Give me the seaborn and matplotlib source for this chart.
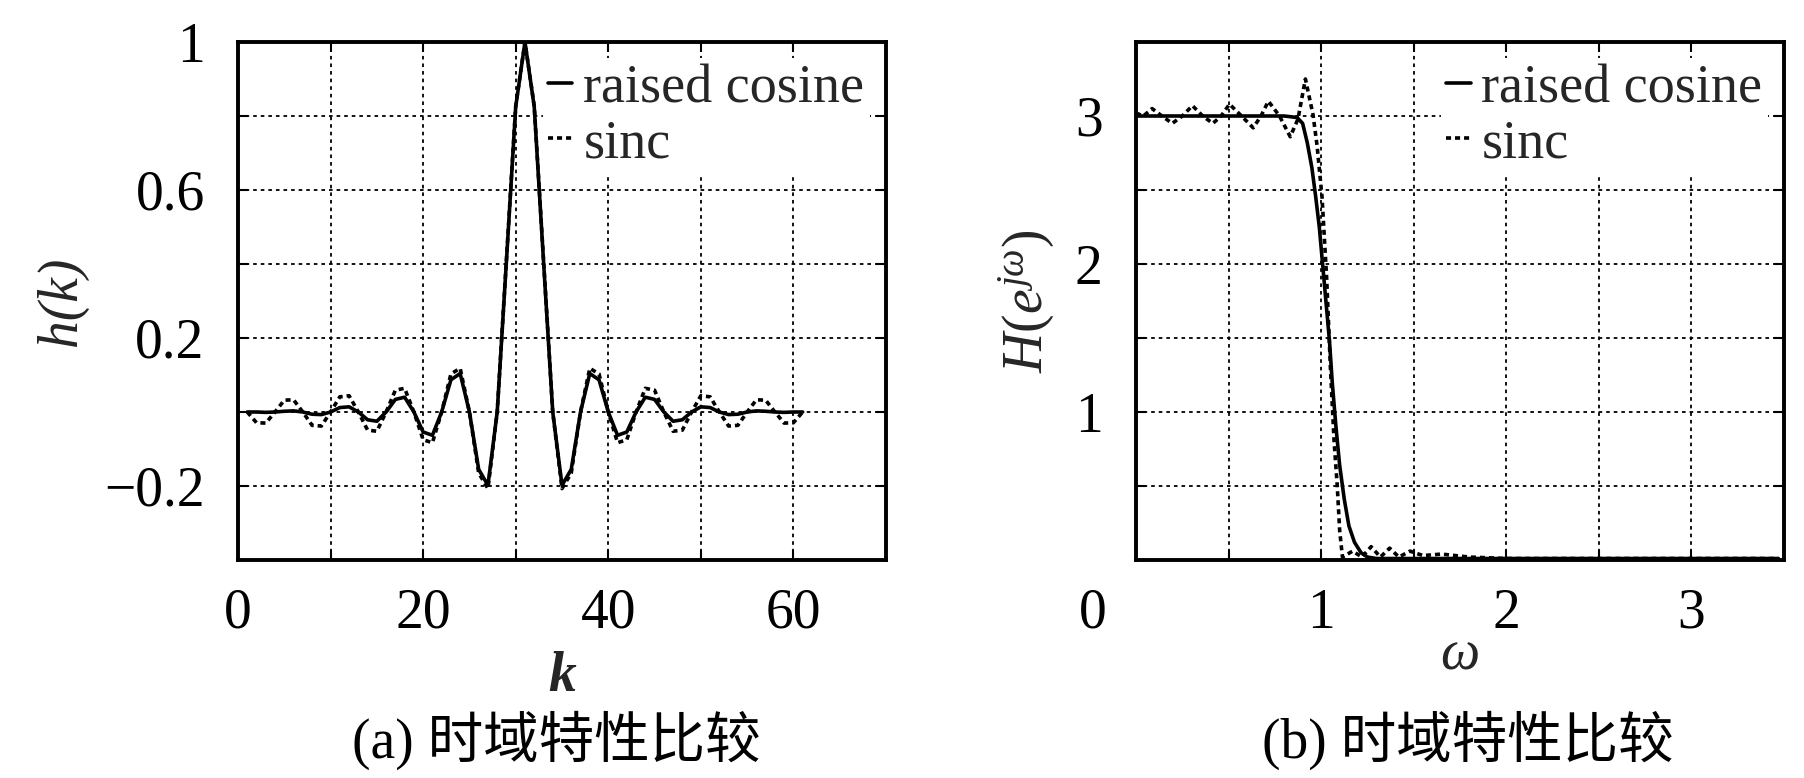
import matplotlib
matplotlib.use("Agg")
import matplotlib.pyplot as plt
import matplotlib.transforms as mtransforms
import seaborn as sns

# ---------------- data ----------------
k = list(range(1, 62))
h_raised_cosine = [0.000, -0.000, -0.001, 0.000, 0.002, 0.003, 0.000, -0.006, -0.007, 0.000,
                   0.012, 0.014, 0.000, -0.021, -0.025, 0.000, 0.034, 0.040, 0.000, -0.054,
                   -0.063, 0.000, 0.087, 0.104, 0.000, -0.155, -0.198, 0.000, 0.409, 0.825,
                   1.000,
                   0.825, 0.409, 0.000, -0.198, -0.155, 0.000, 0.104, 0.087, 0.000, -0.063,
                   -0.054, 0.000, 0.040, 0.034, 0.000, -0.025, -0.021, 0.000, 0.014, 0.012,
                   0.000, -0.007, -0.006, 0.000, 0.003, 0.002, 0.000, -0.001, -0.000, 0.000]
h_sinc = [0.000, -0.029, -0.030, 0.000, 0.032, 0.033, 0.000, -0.036, -0.038, 0.000,
          0.041, 0.044, 0.000, -0.049, -0.052, 0.000, 0.059, 0.064, 0.000, -0.075,
          -0.083, 0.000, 0.103, 0.118, 0.000, -0.165, -0.207, 0.000, 0.413, 0.827,
          1.000,
          0.827, 0.413, 0.000, -0.207, -0.165, 0.000, 0.118, 0.103, 0.000, -0.083,
          -0.075, 0.000, 0.064, 0.059, 0.000, -0.052, -0.049, 0.000, 0.044, 0.041,
          0.000, -0.038, -0.036, 0.000, 0.033, 0.032, 0.000, -0.030, -0.029, 0.000]

omega_rc = [0.00, 0.20, 0.40, 0.60, 0.80, 0.87, 0.90, 0.925, 0.95, 0.97,
            0.99, 1.005, 1.025, 1.045, 1.06, 1.08, 1.10, 1.125, 1.15, 1.18,
            1.215, 1.25, 1.30, 1.60, 2.00, 2.50, 3.00, 3.47]
H_rc = [3.00, 3.00, 3.00, 3.00, 3.00, 2.99, 2.95, 2.82, 2.65, 2.46,
        2.25, 2.04, 1.76, 1.48, 1.20, 0.90, 0.64, 0.41, 0.23, 0.12,
        0.05, 0.02, 0.01, 0.01, 0.01, 0.01, 0.01, 0.01]

omega_sinc = [0.00, 0.04, 0.087, 0.14, 0.196, 0.25, 0.305, 0.36, 0.415, 0.46,
              0.505, 0.57, 0.633, 0.675, 0.715, 0.775, 0.833, 0.875, 0.915, 0.956,
              0.978, 1.005, 1.03, 1.05, 1.07, 1.087, 1.10, 1.115, 1.17, 1.22,
              1.27, 1.32, 1.37, 1.42, 1.48, 1.55, 1.65, 1.80, 2.00, 2.50,
              3.00, 3.47]
H_sinc = [3.02, 3.00, 3.05, 3.00, 2.95, 3.00, 3.07, 3.00, 2.95, 3.00,
          3.08, 3.00, 2.92, 3.00, 3.10, 3.00, 2.86, 2.98, 3.25, 3.01,
          2.80, 2.45, 1.90, 1.30, 0.80, 0.50, 0.20, 0.02, 0.06, 0.02,
          0.09, 0.02, 0.08, 0.02, 0.06, 0.03, 0.04, 0.02, 0.01, 0.01,
          0.01, 0.01]

series_labels = ["raised cosine", "sinc"]

left_xticks = [0, 10, 20, 30, 40, 50, 60, 70]
left_xticklabels = ["0", "", "20", "", "40", "", "60", ""]
left_yticks = [-0.4, -0.2, 0.0, 0.2, 0.4, 0.6, 0.8, 1.0]
left_yticklabels = ["", "\u22120.2", "", "0.2", "", "0.6", "", "1"]

right_xticks = [0, 0.5, 1.0, 1.5, 2.0, 2.5, 3.0, 3.5]
right_xticklabels = ["0", "", "1", "", "2", "", "3", ""]
right_yticks = [0, 0.5, 1.0, 1.5, 2.0, 2.5, 3.0, 3.5]
right_yticklabels = ["", "", "1", "", "2", "", "3", ""]

captions = ["(a) 时域特性比较", "(b) 时域特性比较"]

# ---------------- style ----------------
sns.set_theme(style="white")
plt.rcParams["font.family"] = ["Liberation Serif", "Noto Sans CJK SC", "DejaVu Sans"]
plt.rcParams["mathtext.fontset"] = "custom"
plt.rcParams["mathtext.rm"] = "Liberation Serif"
plt.rcParams["mathtext.it"] = "Liberation Serif:italic"
plt.rcParams["mathtext.bf"] = "Liberation Serif:bold"
plt.rcParams["axes.unicode_minus"] = True

W, H = 1804, 778
fig = plt.figure(figsize=(W / 100, H / 100), dpi=100)
fig.patch.set_facecolor("white")

ax1 = fig.add_axes([238 / W, 1 - 560 / H, 648 / W, 518 / H])
ax2 = fig.add_axes([1136 / W, 1 - 560 / H, 648 / W, 518 / H])

LW = 2.6
DASH = (0, (1.4, 1.1))
FS = 40


def style_axes(ax, xticks, xlabels, yticks, ylabels, xlim, ylim):
    ax.set_xlim(*xlim)
    ax.set_ylim(*ylim)
    ax.set_xticks(xticks)
    ax.set_xticklabels(xlabels)
    ax.set_yticks(yticks)
    ax.set_yticklabels(ylabels)
    ax.set_axisbelow(True)
    ax.grid(True, color="black", linestyle=(0, (2.0, 2.2)), linewidth=1.3)
    ax.tick_params(axis="both", direction="in", length=7, width=1.5, colors="black",
                   bottom=True, left=True, top=True, right=True, labelsize=FS)
    ax.tick_params(axis="x", pad=20)
    ax.tick_params(axis="y", pad=24)
    for s in ax.spines.values():
        s.set_visible(True)
        s.set_color("black")
        s.set_linewidth(2.8)
        s.set_zorder(5)
    ax.set_facecolor("white")


# ---- panel (a) ----
sns.lineplot(x=k, y=h_raised_cosine, ax=ax1, color="black", linewidth=LW,
             estimator=None, sort=False, label=series_labels[0])
sns.lineplot(x=k, y=h_sinc, ax=ax1, color="black", linewidth=LW, linestyle=DASH,
             estimator=None, sort=False, label=series_labels[1])
style_axes(ax1, left_xticks, left_xticklabels, left_yticks, left_yticklabels,
           (0, 70), (-0.4, 1.0))
ax1.set_xlabel("k", fontsize=FS, fontstyle="italic", fontweight="bold")
ax1.xaxis.set_label_coords(0.5, -0.175)
ax1.set_ylabel("h(k)", fontsize=FS, fontstyle="italic")
ax1.yaxis.set_label_coords(-0.232, 0.5)

# ---- panel (b) ----
sns.lineplot(x=omega_rc, y=H_rc, ax=ax2, color="black", linewidth=LW,
             estimator=None, sort=False, label=series_labels[0])
sns.lineplot(x=omega_sinc, y=H_sinc, ax=ax2, color="black", linewidth=LW, linestyle=DASH,
             estimator=None, sort=False, label=series_labels[1])
style_axes(ax2, right_xticks, right_xticklabels, right_yticks, right_yticklabels,
           (0, 3.5), (0, 3.5))
ax2.set_xlabel("\u03c9", fontsize=FS, fontstyle="italic")
ax2.xaxis.set_label_coords(0.5, -0.135)
ax2.set_ylabel(r"$H(e^{j\omega})$", fontsize=FS)
ax2.yaxis.set_label_coords(-0.122, 0.5)

# shift the "0" on panel (b) a bit left, as in the reference
lbl0 = ax2.xaxis.get_major_ticks()[0].label1
lbl0.set_transform(lbl0.get_transform() +
                   mtransforms.ScaledTranslation(-0.43, 0, fig.dpi_scale_trans))

for ax in (ax1, ax2):
    leg = ax.legend(loc="upper right", frameon=True, fontsize=FS - 1, handlelength=0.45,
                    handletextpad=0.2, labelspacing=0.08, borderaxespad=0.3,
                    borderpad=0.1, fancybox=False, framealpha=1.0)
    leg.get_frame().set_facecolor("white")
    leg.get_frame().set_edgecolor("white")
    leg.get_frame().set_linewidth(0)

# captions
caption_x = [556 / W, 1468 / W]
for cx, cap in zip(caption_x, captions):
    fig.text(cx, 1 - 740 / H, cap, ha="center", va="center",
             fontsize=40, color="black")

fig.savefig("out.png", dpi=100, facecolor="white")
